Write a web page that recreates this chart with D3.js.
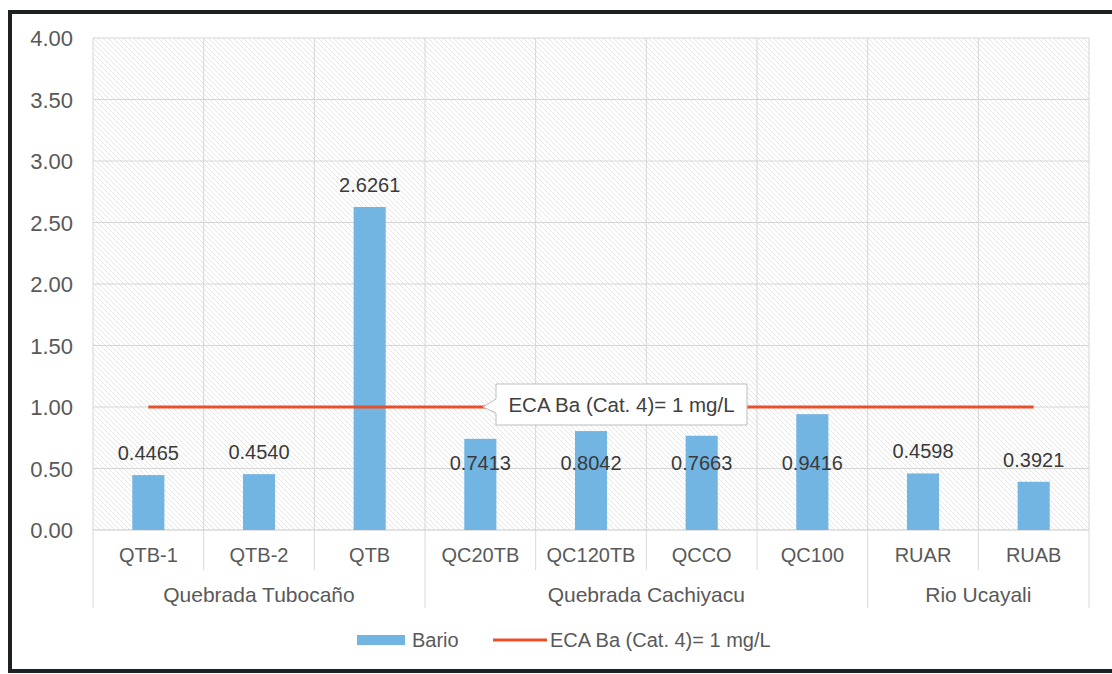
<!DOCTYPE html>
<html>
<head>
<meta charset="utf-8">
<script src="https://cdn.jsdelivr.net/npm/d3@7"></script>
<style>
  html, body { margin: 0; padding: 0; background: #fff; }
  svg { display: block; font-family: "Liberation Sans", Arial, sans-serif; }
</style>
</head>
<body>
<svg id="chart" width="1112" height="674"></svg>
<script>
// ---- data ----
const categories = ["QTB-1", "QTB-2", "QTB", "QC20TB", "QC120TB", "QCCO", "QC100", "RUAR", "RUAB"];
const bario = [0.4465, 0.4540, 2.6261, 0.7413, 0.8042, 0.7663, 0.9416, 0.4598, 0.3921];
const groups = ["Quebrada Tubocaño", "Quebrada Cachiyacu", "Rio Ucayali"];
const groupSizes = [3, 4, 2];
const ecaValue = 1;
const ecaLabel = "ECA Ba (Cat. 4)= 1 mg/L";
const seriesName = "Bario";
const yTicks = [0, 0.5, 1, 1.5, 2, 2.5, 3, 3.5, 4];

// ---- layout ----
const svg = d3.select("#chart");
const pLeft = 93, pRight = 1089, pTop = 38, pBottom = 530;
const barColor = "#72b4e2";
const lineColor = "#e8502a";
const font = "'Liberation Sans', Arial, sans-serif";

const x = d3.scaleBand().domain(categories).range([pLeft, pRight]).padding(0);
const y = d3.scaleLinear().domain([0, 4]).range([pBottom, pTop]);
const bw = x.bandwidth();

// frame
svg.append("rect").attr("x", 10).attr("y", 12).attr("width", 1110).attr("height", 659)
  .attr("fill", "#fff").attr("stroke", "#1e2124").attr("stroke-width", 4);

// hatch pattern
const defs = svg.append("defs");
const pat = defs.append("pattern").attr("id", "hatch").attr("patternUnits", "userSpaceOnUse")
  .attr("width", 5).attr("height", 5);
pat.append("rect").attr("width", 5).attr("height", 5).attr("fill", "#ffffff");
pat.append("path").attr("d", "M0,0 L5,5 M-1,4 L1,6 M4,-1 L6,1")
  .attr("stroke", "#e6e6e6").attr("stroke-width", 1);

svg.append("rect").attr("x", pLeft).attr("y", pTop).attr("width", pRight - pLeft).attr("height", pBottom - pTop)
  .attr("fill", "url(#hatch)");

// horizontal gridlines
svg.append("g").selectAll("line").data(yTicks.filter(d => d > 0)).join("line")
  .attr("x1", pLeft).attr("x2", pRight).attr("y1", d => y(d)).attr("y2", d => y(d))
  .attr("stroke", "#d6d6d6").attr("stroke-width", 1);

// vertical gridlines at category boundaries
const bounds = d3.range(categories.length + 1).map(i => pLeft + i * bw);
svg.append("g").selectAll("line").data(bounds).join("line")
  .attr("x1", d => d).attr("x2", d => d).attr("y1", pTop).attr("y2", pBottom)
  .attr("stroke", "#d6d6d6").attr("stroke-width", 1);

// y axis labels
const yAxis = d3.axisLeft(y).tickValues(yTicks).tickFormat(d3.format(".2f")).tickSize(0).tickPadding(0);
const yg = svg.append("g").attr("transform", `translate(${pLeft - 20},0)`).call(yAxis);
yg.select(".domain").remove();
yg.selectAll("text").attr("font-size", 22).attr("font-family", font).attr("fill", "#595959")
  .attr("dy", "0.35em");

// x axis baseline
svg.append("line").attr("x1", pLeft).attr("x2", pRight).attr("y1", pBottom).attr("y2", pBottom)
  .attr("stroke", "#c8c8c8");

// separators below axis
const groupBounds = [0];
groupSizes.forEach((s, i) => groupBounds.push(groupBounds[i] + s));
svg.append("g").selectAll("line").data(d3.range(categories.length + 1)).join("line")
  .attr("x1", i => pLeft + i * bw).attr("x2", i => pLeft + i * bw)
  .attr("y1", pBottom).attr("y2", i => groupBounds.includes(i) ? 608 : 570)
  .attr("stroke", "#dadada");

// bars
const barW = bw * 0.29;
svg.append("g").selectAll("rect").data(categories).join("rect")
  .attr("x", d => x(d) + (bw - barW) / 2).attr("width", barW)
  .attr("y", (d, i) => y(bario[i])).attr("height", (d, i) => y(0) - y(bario[i]))
  .attr("fill", barColor);

// ECA line
svg.append("line")
  .attr("x1", x(categories[0]) + bw / 2).attr("x2", x(categories[categories.length - 1]) + bw / 2)
  .attr("y1", y(ecaValue)).attr("y2", y(ecaValue))
  .attr("stroke", lineColor).attr("stroke-width", 3);

// data labels: above the bar, but dropped below the ECA line when they would collide with it
function labelY(v) {
  const above = y(v) - 22;
  return Math.abs(above - y(ecaValue)) < 26 ? y(0.5) - 6 : above;
}
svg.append("g").selectAll("text").data(categories).join("text")
  .attr("x", d => x(d) + bw / 2)
  .attr("y", (d, i) => labelY(bario[i]))
  .attr("dy", "0.35em").attr("text-anchor", "middle")
  .attr("font-size", 20).attr("font-family", font).attr("fill", "#3a3a3a")
  .text((d, i) => d3.format(".4f")(bario[i]));

// category labels
svg.append("g").selectAll("text").data(categories).join("text")
  .attr("x", d => x(d) + bw / 2).attr("y", 555).attr("dy", "0.35em")
  .attr("text-anchor", "middle").attr("font-size", 20).attr("font-family", font)
  .attr("fill", "#595959").text(d => d);

// group labels
svg.append("g").selectAll("text").data(groups).join("text")
  .attr("x", (d, i) => pLeft + (groupBounds[i] + groupBounds[i + 1]) / 2 * bw)
  .attr("y", 595).attr("dy", "0.35em")
  .attr("text-anchor", "middle").attr("font-size", 21).attr("font-family", font)
  .attr("fill", "#595959").text(d => d);

// callout
const cy = y(ecaValue);
const bx0 = 496, bx1 = 747, by0 = 384, by1 = 425, tipX = 483;
svg.append("path")
  .attr("d", `M${bx0},${by0} L${bx1},${by0} L${bx1},${by1} L${bx0},${by1} L${bx0},${cy + 6} L${tipX},${cy} L${bx0},${cy - 8} Z`)
  .attr("fill", "#fff").attr("stroke", "#bdbdbd").attr("stroke-width", 1);
svg.append("text").attr("x", (bx0 + bx1) / 2).attr("y", (by0 + by1) / 2).attr("dy", "0.35em")
  .attr("text-anchor", "middle").attr("font-size", 20.5).attr("font-family", font)
  .attr("fill", "#404040").text(ecaLabel);

// legend
const ly = 640;
svg.append("rect").attr("x", 357).attr("y", ly - 5).attr("width", 48).attr("height", 10).attr("fill", barColor);
svg.append("text").attr("x", 412).attr("y", ly).attr("dy", "0.35em").attr("font-size", 20)
  .attr("font-family", font).attr("fill", "#595959").text(seriesName);
svg.append("line").attr("x1", 493).attr("x2", 547).attr("y1", ly).attr("y2", ly)
  .attr("stroke", lineColor).attr("stroke-width", 3);
svg.append("text").attr("x", 550).attr("y", ly).attr("dy", "0.35em").attr("font-size", 20)
  .attr("font-family", font).attr("fill", "#595959").text(ecaLabel);
</script>
</body>
</html>
